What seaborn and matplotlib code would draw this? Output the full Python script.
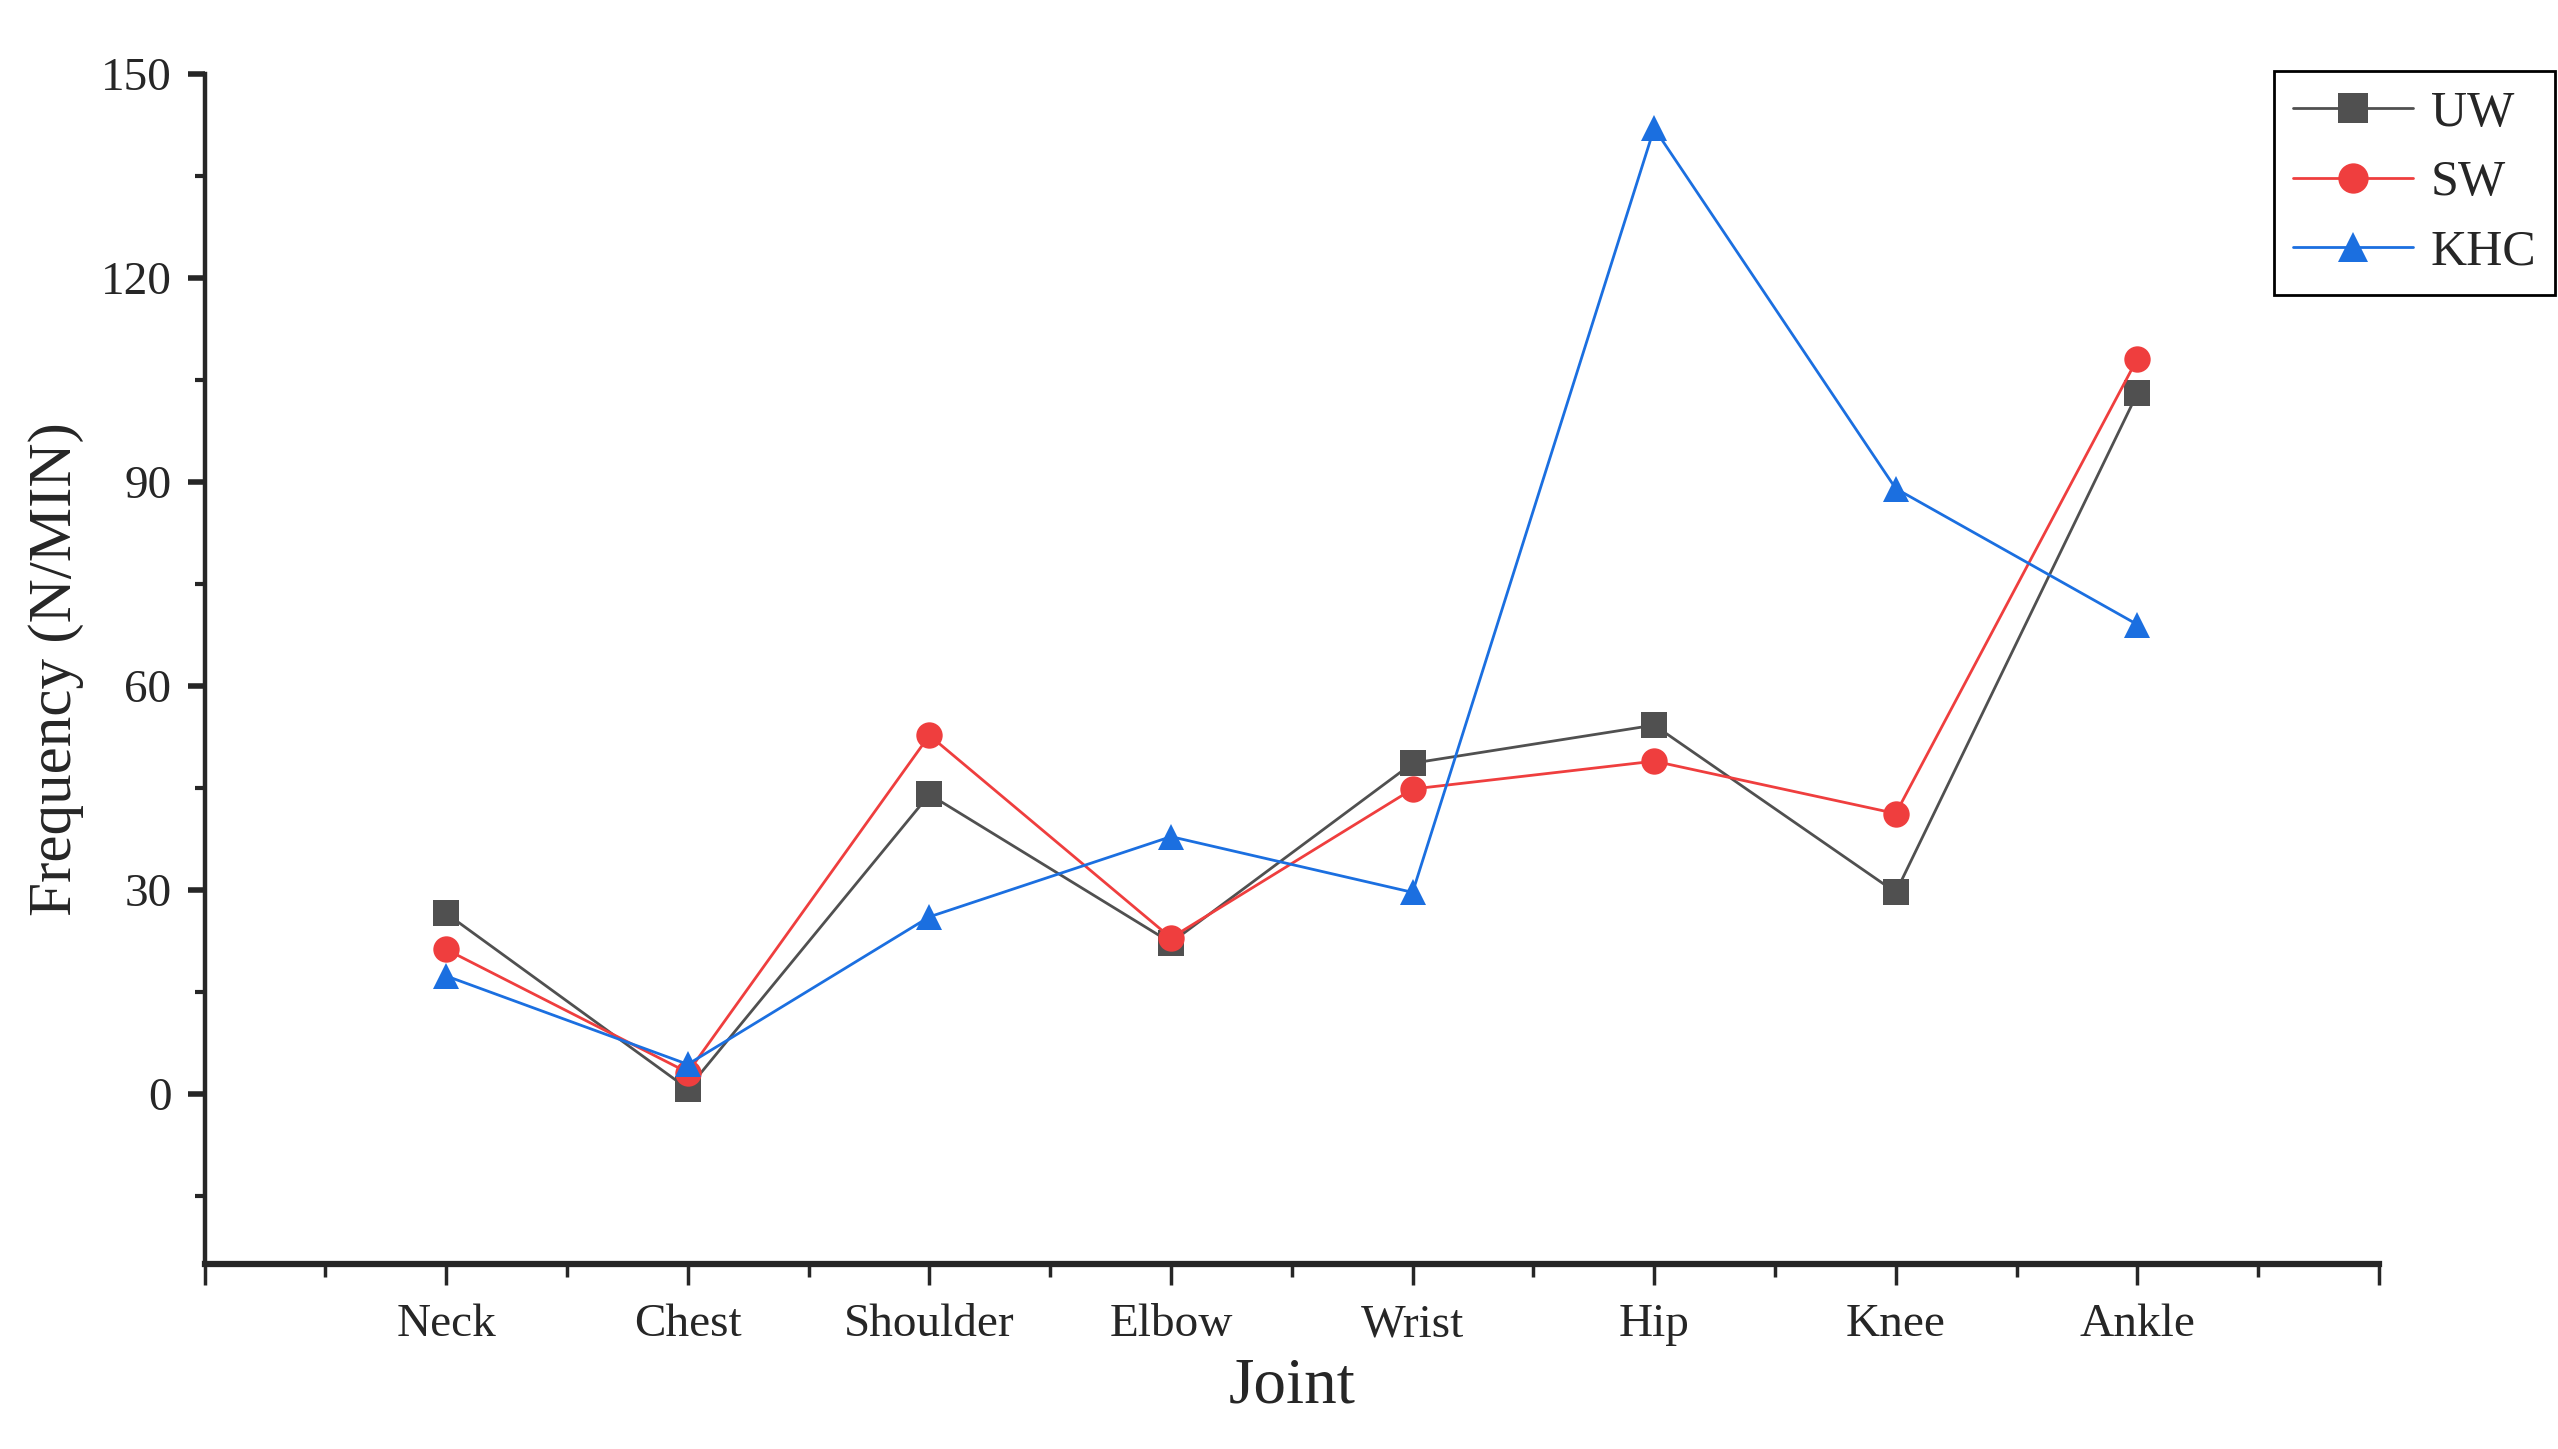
import matplotlib
matplotlib.use("Agg")
import matplotlib.pyplot as plt
from matplotlib.ticker import MultipleLocator
import seaborn as sns
import pandas as pd

joints = ["Neck", "Chest", "Shoulder", "Elbow", "Wrist", "Hip", "Knee", "Ankle"]
uw = [26.5, 0.7, 44.0, 22.2, 48.6, 54.2, 29.6, 103.0]
sw = [21.2, 3.1, 52.7, 22.9, 44.8, 48.9, 41.2, 108.1]
khc = [17.3, 4.3, 26.0, 37.8, 29.6, 142.0, 89.0, 69.0]
groups = ["UW", "SW", "KHC"]
colors = {"UW": "#505050", "SW": "#ef3e3e", "KHC": "#1b6fe0"}
markers = {"UW": "s", "SW": "o", "KHC": "^"}

df = pd.DataFrame({
    "Joint": joints * 3,
    "Frequency": uw + sw + khc,
    "Group": ["UW"] * 8 + ["SW"] * 8 + ["KHC"] * 8,
})

sns.set_style("white")
plt.rcParams['font.family'] = ['Liberation Serif', 'DejaVu Serif']

fig = plt.figure(figsize=(25.58, 14.49), dpi=100)
ax = fig.add_axes([0.080, 0.128, 0.850, 0.821])
sns.lineplot(data=df, x="Joint", y="Frequency", hue="Group", style="Group",
             palette=colors, markers=markers, dashes=False, hue_order=groups,
             style_order=groups, linewidth=2.0, markersize=19,
             markeredgewidth=0, sort=False, ax=ax, legend=True)

ax.set_xlim(-1, 8)
ax.set_ylim(-25, 150)
ax.set_xticks(range(-1, 9))
ax.set_xticklabels([""] + joints + [""])
ax.xaxis.set_minor_locator(MultipleLocator(0.5))
ax.set_yticks([0, 30, 60, 90, 120, 150])
ax.yaxis.set_minor_locator(MultipleLocator(15))

for s in ["top", "right"]:
    ax.spines[s].set_visible(False)
ax.spines["left"].set_linewidth(3.2)
ax.spines["bottom"].set_linewidth(4.5)

ax.tick_params(axis="x", which="major", length=15, width=2.5, labelsize=34, pad=14, direction="out", bottom=True)
ax.tick_params(axis="x", which="minor", length=9, width=2.5, direction="out", bottom=True)
ax.tick_params(axis="y", which="major", length=12, width=4, labelsize=34, pad=12, direction="out", left=True)
ax.tick_params(axis="y", which="minor", length=7, width=3, direction="out", left=True)

ax.set_xlabel("Joint", fontsize=47, labelpad=8)
ax.set_ylabel("Frequency (N/MIN)", fontsize=44, labelpad=12)

handles, labels = ax.get_legend_handles_labels()
ax.get_legend().remove()
leg = fig.legend(handles, labels, loc="upper left", bbox_to_anchor=(0.889, 0.951),
                 bbox_transform=fig.transFigure, fontsize=36,
                 frameon=True, fancybox=False, edgecolor="black", framealpha=1,
                 handlelength=2.4, handletextpad=0.35, borderpad=0.38,
                 labelspacing=0.46, borderaxespad=0, markerscale=1.15)
leg.get_frame().set_linewidth(2)

fig.savefig("out.png", dpi=100)
